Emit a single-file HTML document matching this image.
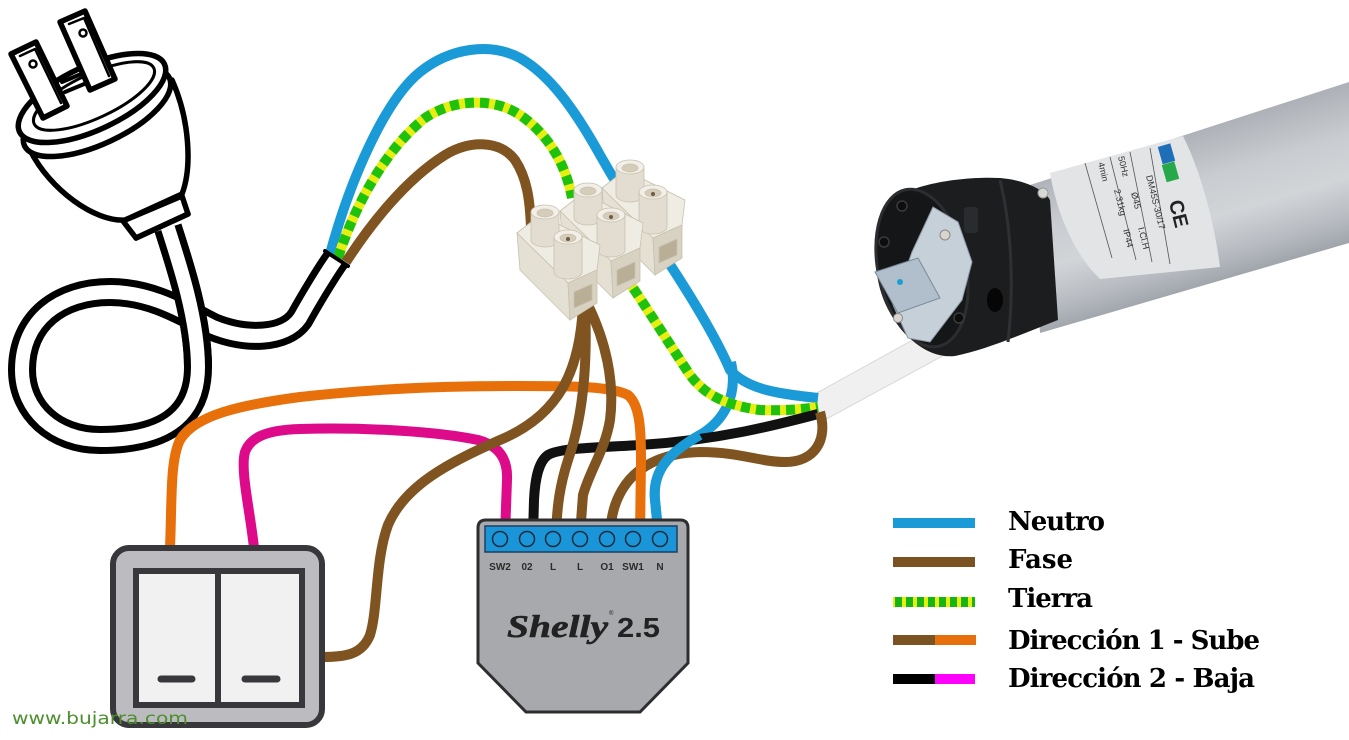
<!DOCTYPE html>
<html>
<head>
<meta charset="utf-8">
<style>
html,body{margin:0;padding:0;background:#fff;}
svg{display:block;}
</style>
</head>
<body>
<svg width="1349" height="740" viewBox="0 0 1349 740" xmlns="http://www.w3.org/2000/svg">
<defs>
  <linearGradient id="tube" gradientUnits="userSpaceOnUse" x1="1200" y1="130" x2="1246" y2="283">
    <stop offset="0" stop-color="#aeb2b8"/>
    <stop offset="0.3" stop-color="#c9ccd0"/>
    <stop offset="0.55" stop-color="#d2d5d8"/>
    <stop offset="0.8" stop-color="#b6bac0"/>
    <stop offset="1" stop-color="#979ca3"/>
  </linearGradient>
</defs>
<rect width="1349" height="740" fill="#fff"/>

<!-- ===== MOTOR ===== -->
<path d="M1030,185 L1349,82 L1349,243 L1040,333 Z" fill="url(#tube)"/>
<path d="M1050,173 L1183,136 C1200,170 1214,220 1220,267 L1100,279 C1078,258 1058,220 1050,173 Z" fill="#e3e4e6"/>
<g stroke="#555" stroke-width="0.8" fill="none">
  <path d="M1085,163 L1112,258"/>
  <path d="M1110,157 L1136,260"/>
  <path d="M1130,152 L1152,262"/>
  <path d="M1150,148 L1170,264"/>
</g>
<g font-family="Liberation Sans, sans-serif" font-size="9" fill="#333">
  <text transform="translate(1146,176) rotate(76)">DM45S-30/17</text>
  <text transform="translate(1131,193) rotate(76)">Ø45</text>
  <text transform="translate(1138,228) rotate(76)">I.Cl.H</text>
  <text transform="translate(1114,190) rotate(76)">2.31kg</text>
  <text transform="translate(1123,230) rotate(76)">IP44</text>
  <text transform="translate(1118,157) rotate(76)">50Hz</text>
  <text transform="translate(1098,163) rotate(76)">4min</text>
</g>
<rect x="1160" y="145" width="13" height="18" fill="#1e6fb8" transform="rotate(-16 1166 154)"/>
<rect x="1164" y="163" width="13" height="18" fill="#27a84a" transform="rotate(-16 1170 172)"/>
<text x="1178" y="220" font-family="Liberation Sans, sans-serif" font-size="20" font-weight="bold" fill="#222" transform="rotate(76 1185 205)">CE</text>
<!-- white cable from motor -->
<path d="M815,394 L956,316 L970,341 L821,422 Z" fill="#f0f0f0" stroke="#d8d8d8" stroke-width="1"/>
<!-- black head -->
<path d="M893,200 C910,185 960,176 1000,178 C1025,180 1045,190 1050,200 L1058,320 C1020,335 985,350 955,356 C920,360 885,320 878,280 C872,245 880,212 893,200 Z" fill="#1c1d1f"/>
<path d="M1000,180 C1012,230 1014,290 1008,342" fill="none" stroke="#2e3033" stroke-width="3"/>
<ellipse cx="922" cy="268" rx="44" ry="80" transform="rotate(-12 922 268)" fill="#151618" stroke="#2c2d30" stroke-width="3"/>
<rect x="964" y="207" width="14" height="26" rx="3" fill="#2a2b2e"/>
<ellipse cx="995" cy="300" rx="8" ry="12" fill="#060606"/>
<g fill="#0d0d0d" stroke="#3a3a3a" stroke-width="1.5">
  <circle cx="902" cy="206" r="5"/>
  <circle cx="884" cy="242" r="5"/>
  <circle cx="959" cy="318" r="5"/>
</g>
<path d="M933,207 L958,222 L972,262 L962,300 L930,342 L908,338 L893,305 L912,252 Z" fill="#c6d0d9" stroke="#8f9ba7" stroke-width="1"/>
<path d="M875,272 L918,258 L940,298 L898,313 Z" fill="#b1bfcc" stroke="#7c8c9a" stroke-width="1"/>
<circle cx="900" cy="282" r="3" fill="#1aa0d0"/>
<circle cx="945" cy="235" r="5" fill="#d9d4cc" stroke="#8a8a8a" stroke-width="1"/>
<circle cx="898" cy="318" r="4.5" fill="#d9d4cc" stroke="#8a8a8a" stroke-width="1"/>
<circle cx="1043" cy="193" r="5" fill="#d8d8d6" stroke="#999" stroke-width="1"/>

<!-- ===== PLUG ===== -->
<g stroke="#000" stroke-linejoin="round" stroke-linecap="round" fill="#fff">
  <path d="M30,150 C50,190 95,222 125,220 L182,194 C192,168 190,120 172,80 Z" stroke-width="5.5"/>
  <path d="M123,221 L182,196 L188,214 L136,238 Z" stroke-width="5.5"/>
  <ellipse cx="97" cy="112" rx="80" ry="32" transform="rotate(-25 97 112)" stroke-width="5.5"/>
  <ellipse cx="92" cy="98" rx="80" ry="32" transform="rotate(-25 92 98)" stroke-width="5.5"/>
  <ellipse cx="94" cy="96" rx="66" ry="22" transform="rotate(-25 94 96)" fill="none" stroke-width="3"/>
  <path d="M62,82 L86,72 M65,92 L89,82" fill="none" stroke-width="4"/>
  <!-- right prong -->
  <path d="M60,22 L85,11 L115,79 L90,90 Z" stroke-width="5.5"/>
  <path d="M69,24 L84,18 L109,76" fill="none" stroke-width="2.5"/>
  <circle cx="83" cy="33" r="3.5" stroke-width="2.5"/>
  <!-- left prong -->
  <path d="M11,54 L36,42 L67,106 L43,118 Z" stroke-width="5.5"/>
  <path d="M20,56 L35,49 L61,103" fill="none" stroke-width="2.5"/>
  <circle cx="33" cy="64" r="3.5" stroke-width="2.5"/>
</g>
<!-- cable -->
<path d="M168,228 C180,265 198,320 198,367 C198,420 160,440 100,440 C55,440 22,410 22,370 C22,320 60,292 110,292 C150,292 180,310 213,327 C245,340 285,340 300,318 C310,300 328,270 337,258" fill="none" stroke="#000" stroke-width="28"/>
<path d="M168,228 C180,265 198,320 198,367 C198,420 160,440 100,440 C55,440 22,410 22,370 C22,320 60,292 110,292 C150,292 180,310 213,327 C245,340 285,340 300,318 C310,300 328,270 337,258" fill="none" stroke="#fff" stroke-width="14"/>
<path d="M168,228 C180,265 198,320 198,367" fill="none" stroke="#000" stroke-width="28"/>
<path d="M166,222 C180,265 198,320 198,368" fill="none" stroke="#fff" stroke-width="14"/>
<path d="M136,238 L188,214" stroke="#000" stroke-width="5.5" stroke-linecap="round"/>

<!-- ===== WIRES (top, behind block) ===== -->
<g fill="none" stroke-width="10" stroke-linecap="butt">
  <path d="M330,254 C350,180 385,100 420,72 C450,48 490,42 520,58 C550,75 575,110 600,155 C620,190 645,230 667,260 C690,295 715,335 730,370 C748,390 780,394 818,398" stroke="#1a9ad6"/>
  <path d="M731,362 C738,395 725,420 700,435 C670,452 652,470 655,500 L658,530" stroke="#1a9ad6"/>
  <path d="M338,258 C355,205 385,150 425,118 C455,98 495,98 520,115 C545,132 565,160 572,198" stroke="#e6ee12"/>
  <path d="M338,258 C355,205 385,150 425,118 C455,98 495,98 520,115 C545,132 565,160 572,198" stroke="#1fc10c" stroke-dasharray="9 6"/>
  <path d="M625,276 C645,305 670,345 690,375 C705,395 725,405 760,410 C785,411 805,409 818,407" stroke="#e6ee12"/>
  <path d="M625,276 C645,305 670,345 690,375 C705,395 725,405 760,410 C785,411 805,409 818,407" stroke="#1fc10c" stroke-dasharray="9 6"/>
  <path d="M346,262 C370,225 405,180 445,155 C470,140 500,140 515,160 C527,178 530,200 531,228" stroke="#7f5420"/>
</g>
<path d="M325,251 L348,266" stroke="#000" stroke-width="4" stroke-linecap="round"/>

<!-- ===== LOWER WIRES ===== -->
<g fill="none" stroke-width="10">
  <path d="M818,414 C780,424 720,440 640,445 C590,448 560,448 548,455 C538,462 535,480 534,500 L533,535" stroke="#111"/>
  <path d="M820,412 C828,440 815,462 785,462 C760,462 740,452 700,452 C660,453 635,468 622,490 C615,502 611,515 610,535" stroke="#7f5420"/>
  <path d="M170,548 C172,500 170,460 180,440 C195,415 240,405 300,397 C380,388 450,386 520,386 C570,386 610,386 628,395 C640,405 641,430 641,460 L640,535" stroke="#e8700a"/>
  <path d="M254,548 C250,510 240,470 245,452 C250,438 265,430 300,429 C370,427 440,432 478,440 C500,446 508,460 507,480 L505,535" stroke="#dd0a8a"/>
  <path d="M583,305 C580,370 560,415 500,440 C450,462 405,485 388,525 C375,560 378,610 370,635 C362,655 345,657 322,657" stroke="#7f5420"/>
  <path d="M585,305 C588,370 582,420 568,460 C560,485 557,505 556,535" stroke="#7f5420"/>
  <path d="M588,305 C605,340 615,380 610,420 C605,450 590,470 583,495 L580,535" stroke="#7f5420"/>
</g>
<path d="M700,435 C670,452 652,470 655,500 L658,530" fill="none" stroke="#1a9ad6" stroke-width="10"/>

<!-- ===== TERMINAL BLOCK ===== -->
<g stroke="#c9c1ae" stroke-width="0.8">
  <g transform="translate(85,-45)">
    <path d="M517,233 L540,215 L600,245 L597,270 L568,283 Z" fill="#efece4"/>
    <path d="M517,233 L568,283 L570,320 L520,270 Z" fill="#e5e0d4"/>
    <path d="M568,283 L597,270 L597,303 L570,320 Z" fill="#d8d2c3"/>
    <path d="M574,292 L592,284 L592,300 L574,308 Z" fill="#b9af97"/>
    <path d="M531,212 L531,240 A14,7 0 0 0 559,240 L559,212 Z" fill="#e2ddd0"/>
    <ellipse cx="545" cy="212" rx="14" ry="7" fill="#f2efe8"/>
    <ellipse cx="545" cy="213" rx="8" ry="4" fill="#d5cdb9"/>
    <path d="M554,237 L554,272 A14,7 0 0 0 582,272 L582,237 Z" fill="#e2ddd0"/>
    <ellipse cx="568" cy="237" rx="14" ry="7" fill="#f2efe8"/>
    <ellipse cx="568" cy="238" rx="8" ry="4" fill="#d5cdb9"/>
    <circle cx="568" cy="239" r="2" fill="#6b5d45" stroke="none"/>
  </g>
  <g transform="translate(43,-22)">
    <path d="M517,233 L540,215 L600,245 L597,270 L568,283 Z" fill="#efece4"/>
    <path d="M517,233 L568,283 L570,320 L520,270 Z" fill="#e5e0d4"/>
    <path d="M568,283 L597,270 L597,303 L570,320 Z" fill="#d8d2c3"/>
    <path d="M574,292 L592,284 L592,300 L574,308 Z" fill="#b9af97"/>
    <path d="M531,212 L531,240 A14,7 0 0 0 559,240 L559,212 Z" fill="#e2ddd0"/>
    <ellipse cx="545" cy="212" rx="14" ry="7" fill="#f2efe8"/>
    <ellipse cx="545" cy="213" rx="8" ry="4" fill="#d5cdb9"/>
    <path d="M554,237 L554,272 A14,7 0 0 0 582,272 L582,237 Z" fill="#e2ddd0"/>
    <ellipse cx="568" cy="237" rx="14" ry="7" fill="#f2efe8"/>
    <ellipse cx="568" cy="238" rx="8" ry="4" fill="#d5cdb9"/>
    <circle cx="568" cy="239" r="2" fill="#6b5d45" stroke="none"/>
  </g>
  <g>
    <path d="M517,233 L540,215 L600,245 L597,270 L568,283 Z" fill="#efece4"/>
    <path d="M517,233 L568,283 L570,320 L520,270 Z" fill="#e5e0d4"/>
    <path d="M568,283 L597,270 L597,303 L570,320 Z" fill="#d8d2c3"/>
    <path d="M574,292 L592,284 L592,300 L574,308 Z" fill="#b9af97"/>
    <path d="M531,212 L531,240 A14,7 0 0 0 559,240 L559,212 Z" fill="#e2ddd0"/>
    <ellipse cx="545" cy="212" rx="14" ry="7" fill="#f2efe8"/>
    <ellipse cx="545" cy="213" rx="8" ry="4" fill="#d5cdb9"/>
    <path d="M554,237 L554,272 A14,7 0 0 0 582,272 L582,237 Z" fill="#e2ddd0"/>
    <ellipse cx="568" cy="237" rx="14" ry="7" fill="#f2efe8"/>
    <ellipse cx="568" cy="238" rx="8" ry="4" fill="#d5cdb9"/>
    <circle cx="568" cy="239" r="2" fill="#6b5d45" stroke="none"/>
  </g>
</g>

<!-- ===== SHELLY ===== -->
<path d="M486,520 L680,520 Q688,520 688,528 L688,663 L640,712 L526,712 L478,663 L478,528 Q478,520 486,520 Z" fill="#a8a9ac" stroke="#2e2e30" stroke-width="3"/>
<rect x="485" y="526" width="192" height="26" fill="#1a96d8" stroke="#1d3f5e" stroke-width="1.5"/>
<g fill="#1a96d8" stroke="#1c2a3a" stroke-width="1.5">
  <circle cx="500" cy="539" r="7.5"/>
  <circle cx="527" cy="539" r="7.5"/>
  <circle cx="553" cy="539" r="7.5"/>
  <circle cx="580" cy="539" r="7.5"/>
  <circle cx="607" cy="539" r="7.5"/>
  <circle cx="633" cy="539" r="7.5"/>
  <circle cx="660" cy="539" r="7.5"/>
</g>
<g font-family="Liberation Sans, sans-serif" font-size="10" font-weight="bold" fill="#2b2b2b" text-anchor="middle">
  <text x="500" y="570">SW2</text>
  <text x="527" y="570">02</text>
  <text x="553" y="570">L</text>
  <text x="580" y="570">L</text>
  <text x="607" y="570">O1</text>
  <text x="633" y="570">SW1</text>
  <text x="660" y="570">N</text>
</g>
<text x="507" y="637" font-family="Liberation Serif, serif" font-style="italic" font-weight="bold" font-size="32" fill="#222" stroke="#222" stroke-width="0.6" textLength="101" lengthAdjust="spacingAndGlyphs">Shelly</text>
<text x="609" y="615" font-family="Liberation Sans, sans-serif" font-size="6" fill="#222">®</text>
<text x="617" y="637" font-family="Liberation Sans, sans-serif" font-weight="bold" font-size="28" fill="#222" textLength="43" lengthAdjust="spacingAndGlyphs">2.5</text>

<!-- ===== SWITCH ===== -->
<rect x="113" y="548" width="209" height="177" rx="16" fill="#bcbcc0" stroke="#38373b" stroke-width="6"/>
<rect x="136" y="571" width="166" height="134" fill="#f1f1f1" stroke="#38373b" stroke-width="6"/>
<line x1="218" y1="571" x2="218" y2="705" stroke="#38373b" stroke-width="6"/>
<line x1="161" y1="679" x2="192" y2="679" stroke="#38373b" stroke-width="7" stroke-linecap="round"/>
<line x1="245" y1="679" x2="277" y2="679" stroke="#38373b" stroke-width="7" stroke-linecap="round"/>
<text x="12" y="724" font-family="DejaVu Sans, sans-serif" font-size="17" fill="#4d8f2e" textLength="176" lengthAdjust="spacingAndGlyphs">www.bujarra.com</text>

<!-- ===== LEGEND ===== -->
<rect x="893" y="518" width="82" height="10" fill="#1a9ad6"/>
<rect x="893" y="557" width="82" height="10" fill="#7b5323"/>
<rect x="893" y="597" width="82" height="10" fill="#e6f00c"/>
<line x1="895" y1="602" x2="975" y2="602" stroke="#16b414" stroke-width="10" stroke-dasharray="7 4"/>
<rect x="893" y="635" width="42" height="10" fill="#7b5323"/>
<rect x="935" y="635" width="41" height="10" fill="#e8700c"/>
<rect x="893" y="674" width="42" height="10" fill="#000"/>
<rect x="935" y="674" width="40" height="10" fill="#ff00ff"/>
<g font-family="DejaVu Serif, Liberation Serif, serif" font-weight="bold" font-size="26" fill="#000" lengthAdjust="spacingAndGlyphs">
  <text x="1008" y="530" textLength="97">Neutro</text>
  <text x="1008" y="568" textLength="65">Fase</text>
  <text x="1008" y="607" textLength="85">Tierra</text>
  <text x="1008" y="649" textLength="252">Dirección 1 - Sube</text>
  <text x="1008" y="687" textLength="247">Dirección 2 - Baja</text>
</g>
</svg>
</body>
</html>
